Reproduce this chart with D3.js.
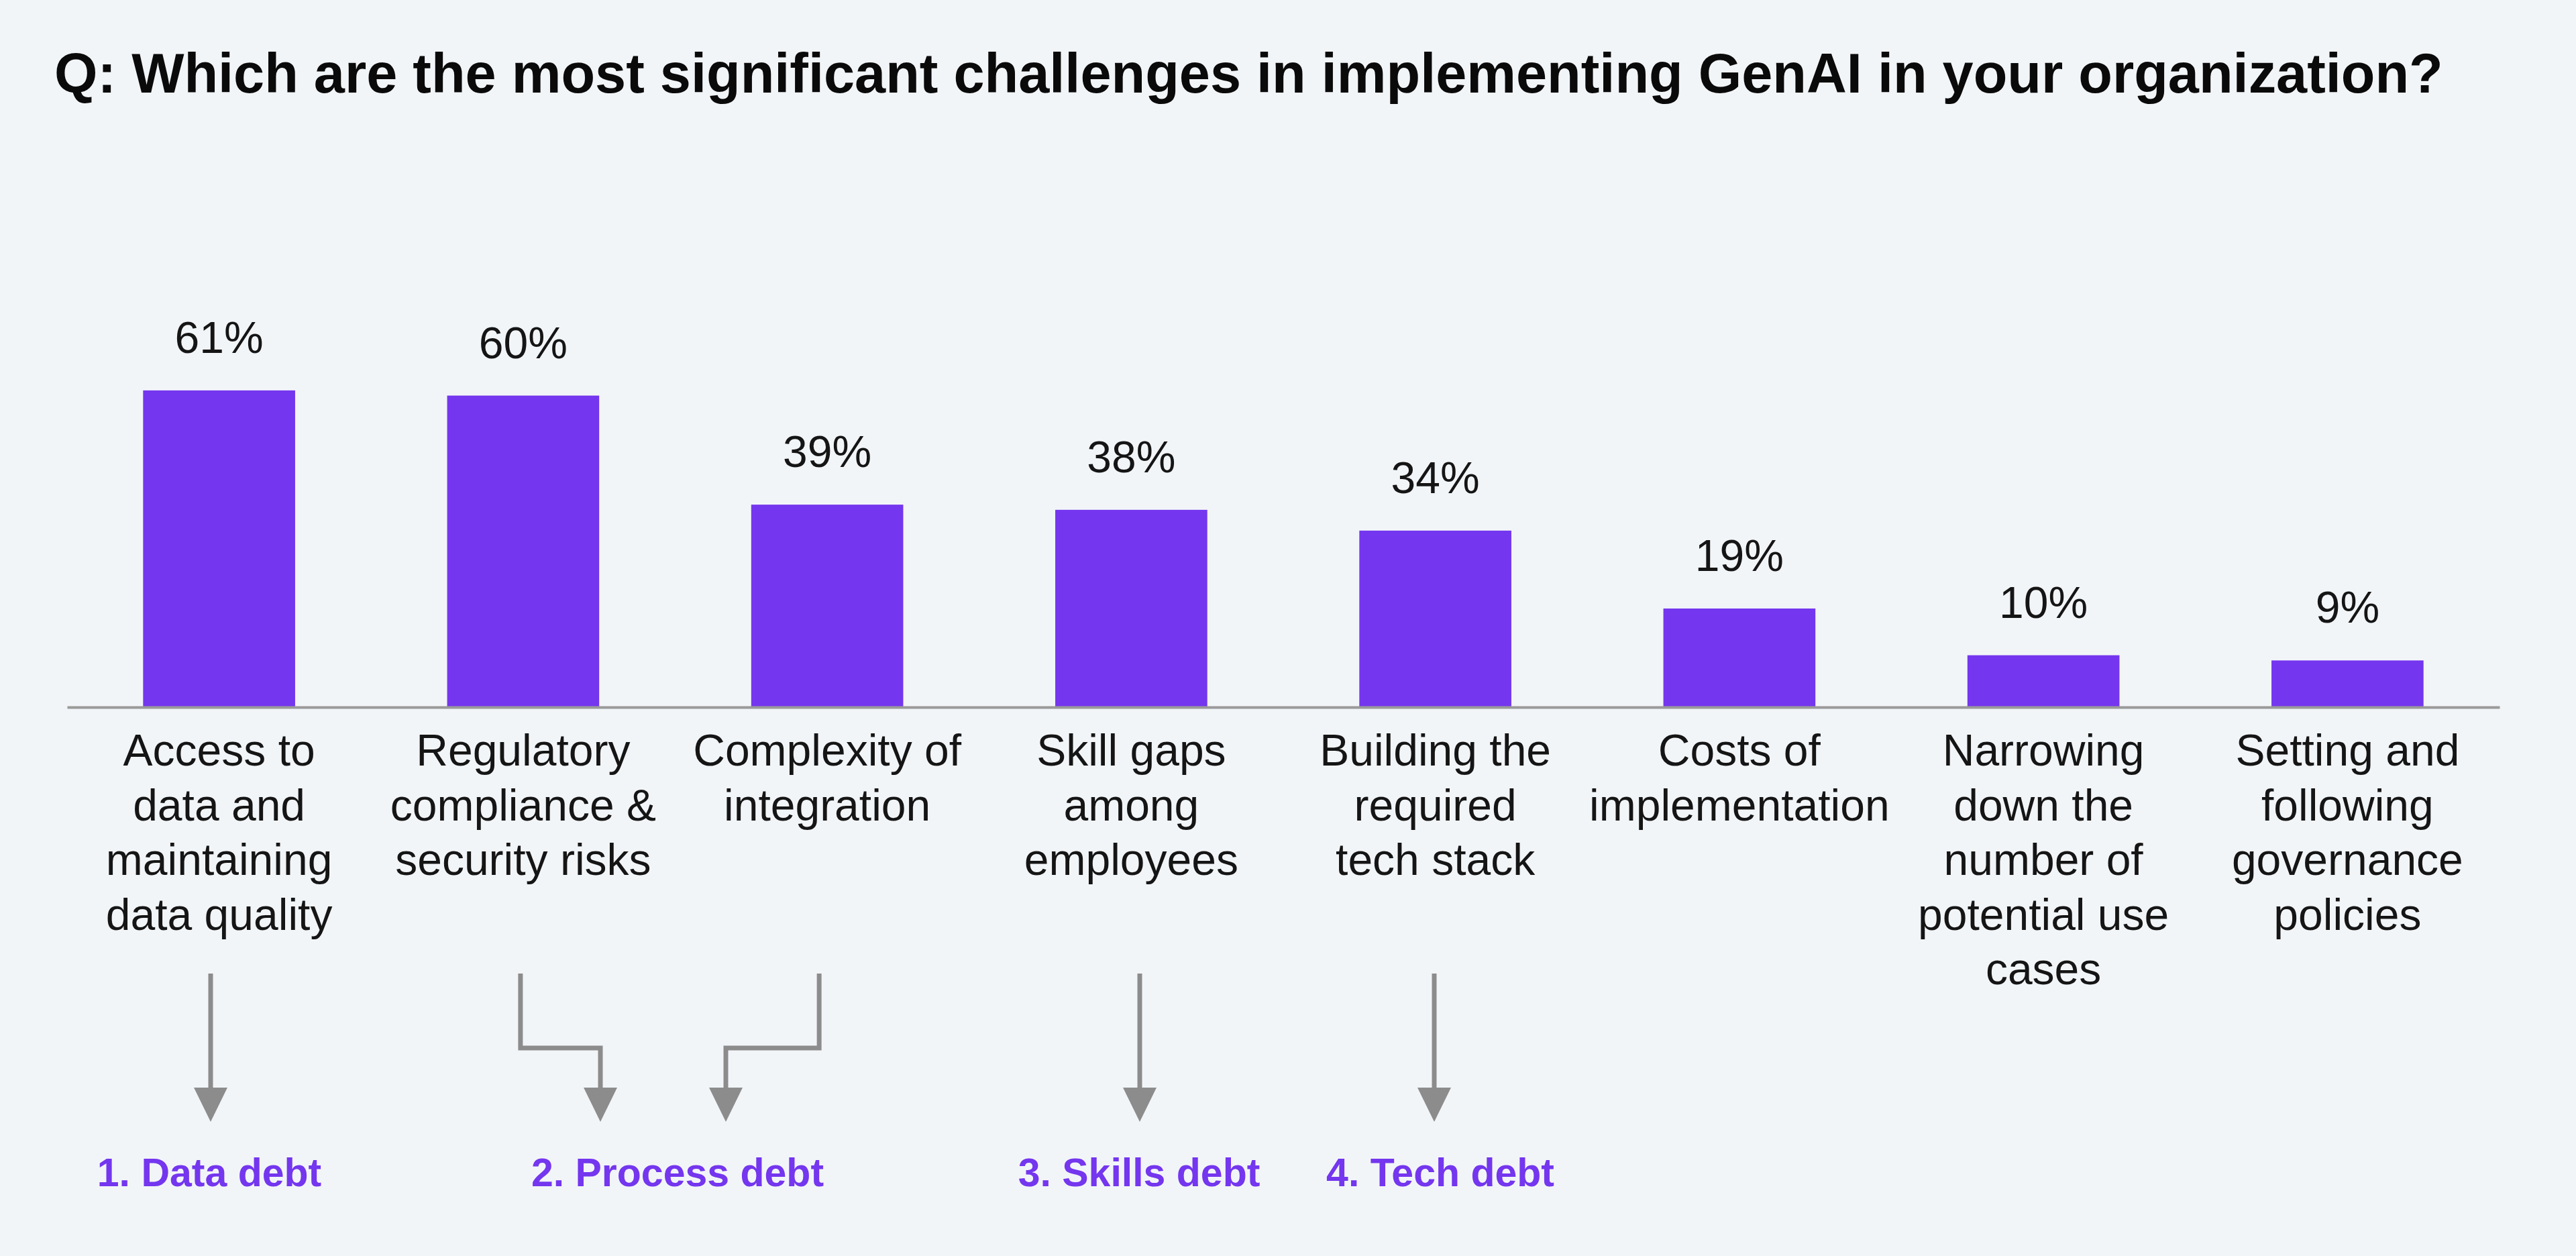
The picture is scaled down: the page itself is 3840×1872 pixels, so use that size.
<!DOCTYPE html>
<html>
<head>
<meta charset="utf-8">
<script src="https://cdn.jsdelivr.net/npm/d3@7"></script>
<style>
  html, body { margin: 0; padding: 0; background: #f2f5f8; }
  svg { display: block; font-family: "Liberation Sans", Arial, Helvetica, sans-serif; }
</style>
</head>
<body>
<div id="chart"></div>
<script>
// chart data
var title = "Q: Which are the most significant challenges in implementing GenAI in your organization?";

var categories = [
    ["Access to", "data and", "maintaining", "data quality"],
    ["Regulatory", "compliance &", "security risks"],
    ["Complexity of", "integration"],
    ["Skill gaps", "among", "employees"],
    ["Building the", "required", "tech stack"],
    ["Costs of", "implementation"],
    ["Narrowing", "down the", "number of", "potential use", "cases"],
    ["Setting and", "following", "governance", "policies"]
];
var values = [61, 60, 39, 38, 34, 19, 10, 9];

var debtLabels = ["1. Data debt", "2. Process debt", "3. Skills debt", "4. Tech debt"];
// which category each arrow leaves from
var arrowFrom = [0, 1, 2, 3, 4];

var width = 3840, height = 1872;
var axisY = 1054;
var purple = "#7436ee";
var grey = "#8c8c8c";

var svg = d3.select("#chart").append("svg")
    .attr("width", width)
    .attr("height", height);

svg.append("rect")
    .attr("width", width)
    .attr("height", height)
    .attr("fill", "#f2f5f8");

var x = d3.scaleBand()
    .domain(d3.range(categories.length))
    .range([100, 3726])
    .paddingInner(0.5)
    .paddingOuter(0.25);

var y = d3.scaleLinear()
    .domain([0, 100])
    .range([axisY, axisY - 774]);

// title, fitted to the width it has in the picture
var titleText = svg.append("text")
    .attr("x", 81)
    .attr("y", 138)
    .attr("font-weight", "bold")
    .attr("font-size", 80)
    .attr("fill", "#0a0a0a")
    .text(title);
var tw = titleText.node().getComputedTextLength();
titleText.attr("font-size", 80 * 3561 / tw);

// bars
svg.selectAll(".bar")
    .data(values)
    .enter().append("rect")
    .attr("class", "bar")
    .attr("x", function(d, i) { return x(i); })
    .attr("y", function(d) { return y(d); })
    .attr("width", x.bandwidth())
    .attr("height", function(d) { return y(0) - y(d); })
    .attr("fill", purple);

// value labels
svg.selectAll(".value")
    .data(values)
    .enter().append("text")
    .attr("class", "value")
    .attr("x", function(d, i) { return x(i) + x.bandwidth() / 2; })
    .attr("y", function(d) { return y(d) - 56; })
    .attr("text-anchor", "middle")
    .attr("font-size", 66)
    .attr("fill", "#151515")
    .text(function(d) { return d + "%"; });

// baseline axis
var axis = svg.append("g")
    .attr("transform", "translate(0," + axisY + ")")
    .call(d3.axisBottom(x).tickSize(0).tickFormat(""));
axis.select(".domain")
    .attr("stroke", "#9a9a9a")
    .attr("stroke-width", 4);

// category labels
var labels = svg.selectAll(".cat")
    .data(categories)
    .enter().append("text")
    .attr("class", "cat")
    .attr("text-anchor", "middle")
    .attr("font-size", 66)
    .attr("fill", "#151515");

labels.selectAll("tspan")
    .data(function(d, i) { return d.map(function(line) { return {line: line, i: i}; }); })
    .enter().append("tspan")
    .attr("x", function(d) { return x(d.i) + x.bandwidth() / 2; })
    .attr("y", function(d, j) { return 1141 + j * 81.5; })
    .text(function(d) { return d.line; });

// arrows down to the debt labels
var debtX = [312, 1010, 1698, 2147];
var arrowStart = [-13, -4, -12, 12, -2];   // offset from band centre
var arrowEnd = [314, 895, 1082, 1699, 2138];
var yTop = 1451, yBend = 1562, yHead = 1621, yTip = 1672, headW = 25;

var arrows = svg.selectAll(".arrow")
    .data(arrowFrom)
    .enter().append("g")
    .attr("class", "arrow");

arrows.append("path")
    .attr("fill", "none")
    .attr("stroke", grey)
    .attr("stroke-width", 7)
    .attr("d", function(c, k) {
        var x0 = x(c) + x.bandwidth() / 2 + arrowStart[k];
        var x1 = arrowEnd[k];
        if (Math.abs(x1 - x0) < 20) {
            return "M" + x1 + "," + yTop + "V" + (yHead + 2);
        }
        return "M" + x0 + "," + yTop + "V" + yBend + "H" + x1 + "V" + (yHead + 2);
    });

arrows.append("path")
    .attr("fill", grey)
    .attr("d", function(c, k) {
        var x1 = arrowEnd[k];
        return "M" + (x1 - headW) + "," + yHead + "L" + (x1 + headW) + "," + yHead + "L" + x1 + "," + yTip + "Z";
    });

svg.selectAll(".debt")
    .data(debtLabels)
    .enter().append("text")
    .attr("class", "debt")
    .attr("x", function(d, i) { return debtX[i]; })
    .attr("y", 1768)
    .attr("text-anchor", "middle")
    .attr("font-size", 59)
    .attr("font-weight", "bold")
    .attr("fill", purple)
    .text(function(d) { return d; });
</script>
</body>
</html>
